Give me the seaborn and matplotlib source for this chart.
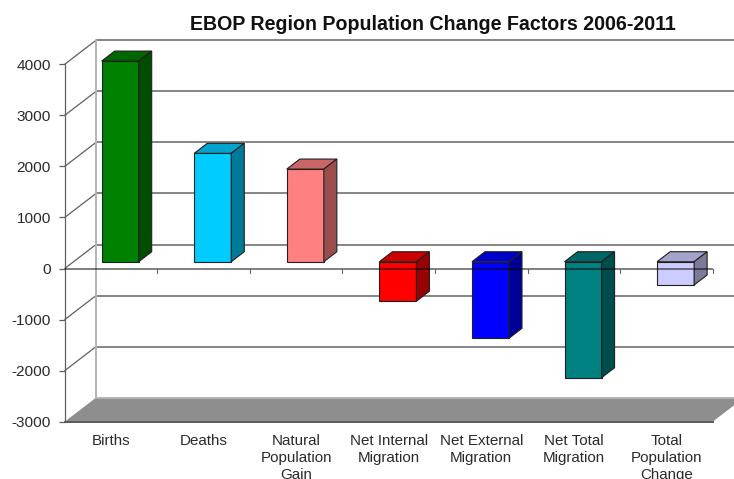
import numpy as np
import pandas as pd
import matplotlib
matplotlib.use("Agg")
import matplotlib.pyplot as plt
from matplotlib.colors import to_rgb
from matplotlib.patches import Polygon
import seaborn as sns

categories = ["Births", "Deaths", "Natural\nPopulation\nGain", "Net Internal\nMigration",
              "Net External\nMigration", "Net Total\nMigration", "Total\nPopulation\nChange"]
values = [3930, 2123, 1815, -773, -1500, -2272, -456]
colors = ["#008000", "#00CCFF", "#FF8080", "#FF0000", "#0000FF", "#008080", "#CCCCFF"]
y_ticks = [4000, 3000, 2000, 1000, 0, -1000, -2000, -3000]
title = "EBOP Region Population Change Factors 2006-2011"

sns.set_theme(style="white")
plt.rcParams["font.family"] = ["Liberation Sans", "DejaVu Sans"]

W, H = 734, 479
LEFT, RIGHT, TOP, BOTTOM = 64.7, 712.7, 64.3, 421.7
px_x = (RIGHT - LEFT) / len(categories)
px_y = (BOTTOM - TOP) / (max(y_ticks) - min(y_ticks))

# wall depth and bar depth, in data units
wall_dx, wall_dy = 31.3 / px_x, 24 / px_y
bar_dx, bar_dy = 13 / px_x, 10 / px_y
shift_x, shift_y = 9.2, 6.8

fig = plt.figure(figsize=(W / 100, H / 100), dpi=100)
ax = fig.add_axes([LEFT / W, 1 - BOTTOM / H, (RIGHT - LEFT) / W, (BOTTOM - TOP) / H])
ax_bars = fig.add_axes([(LEFT + shift_x) / W, 1 - BOTTOM / H + shift_y / H,
                        (RIGHT - LEFT) / W, (BOTTOM - TOP) / H])
x0, x1 = -0.5, len(categories) - 0.5
y0, y1 = min(y_ticks), max(y_ticks)

# floor
ax.add_patch(Polygon([(x0, y0), (x0 + wall_dx, y0 + wall_dy), (x1 + wall_dx, y0 + wall_dy), (x1, y0)],
                     closed=True, facecolor="#8E8E8E", edgecolor="none", clip_on=False, zorder=1))
# back wall gridlines and the side-wall diagonals
for v in y_ticks:
    shade = "#B4B4B4" if v == y0 else "#858585"
    ax.plot([x0 + wall_dx, x1 + wall_dx], [v + wall_dy] * 2, color=shade, lw=1.4,
            clip_on=False, zorder=2, solid_capstyle="butt")
    if v != y0:
        ax.plot([x0, x0 + wall_dx], [v, v + wall_dy], color="#606060", lw=0.9, clip_on=False, zorder=2)
ax.plot([x0 + wall_dx] * 2, [y0 + wall_dy, y1 + wall_dy], color="#B4B4B4", lw=1.4, clip_on=False, zorder=2)

ax.set_xlim(x0, x1)
ax.set_ylim(y0, y1)
ax.set_yticks(y_ticks)
ax.set_yticklabels([str(v) for v in y_ticks], fontsize=11.1, color="#2A2A2A")
ax.set_xticks(range(len(categories)))
ax.set_xticklabels(categories, fontsize=10.9, color="#2A2A2A", linespacing=1.3)
ax.tick_params(axis="y", left=True, length=4, width=0.9, color="#606060", pad=6)
ax.tick_params(axis="x", bottom=False, pad=2.5)
for name in ("top", "right"):
    ax.spines[name].set_visible(False)
ax.spines["left"].set_color("#606060")
ax.spines["left"].set_linewidth(0.9)
ax.spines["bottom"].set_color("#5A5A5A")
ax.spines["bottom"].set_linewidth(1.4)
ax.patch.set_visible(False)

# front faces of the columns
table = pd.DataFrame({"category": categories, "value": values})
sns.barplot(data=table, x="category", y="value", hue="category", palette=colors, saturation=1,
            width=0.4, edgecolor="#202020", linewidth=0.8, legend=False, ax=ax_bars, zorder=3)
ax_bars.set_xlim(x0, x1)
ax_bars.set_ylim(y0, y1)
ax_bars.axis("off")

# top and side faces, derived from each drawn column
for bar, colour in zip(ax_bars.patches, colors):
    left, right = bar.get_x(), bar.get_x() + bar.get_width()
    high = max(bar.get_y(), bar.get_y() + bar.get_height())
    low = min(bar.get_y(), bar.get_y() + bar.get_height())
    base = np.array(to_rgb(colour))
    ax_bars.add_patch(Polygon([(left, high), (left + bar_dx, high + bar_dy),
                               (right + bar_dx, high + bar_dy), (right, high)],
                              closed=True, facecolor=base * 0.8, edgecolor="#202020", lw=0.8,
                              clip_on=False, zorder=3))
    ax_bars.add_patch(Polygon([(right, low), (right + bar_dx, low + bar_dy),
                               (right + bar_dx, high + bar_dy), (right, high)],
                              closed=True, facecolor=base * 0.6, edgecolor="#202020", lw=0.8,
                              clip_on=False, zorder=3))

# zero line and category separators lie in front of the columns
ax_bars.plot([x0, x1], [0, 0], color="black", alpha=0.5, lw=1.4, transform=ax.transData,
             clip_on=False, zorder=6, solid_capstyle="butt")
for i in range(len(categories)):
    ax_bars.plot([i + 0.5, i + 0.5], [0, -4 / px_y], color="#606060", lw=0.8, transform=ax.transData,
                 clip_on=False, zorder=6)

fig.text(432.5 / W, 1 - 24.5 / H, title, ha="center", va="center", fontsize=14.15,
         fontweight="bold", color="#111111")

fig.savefig("out.png", dpi=100, facecolor="white")
